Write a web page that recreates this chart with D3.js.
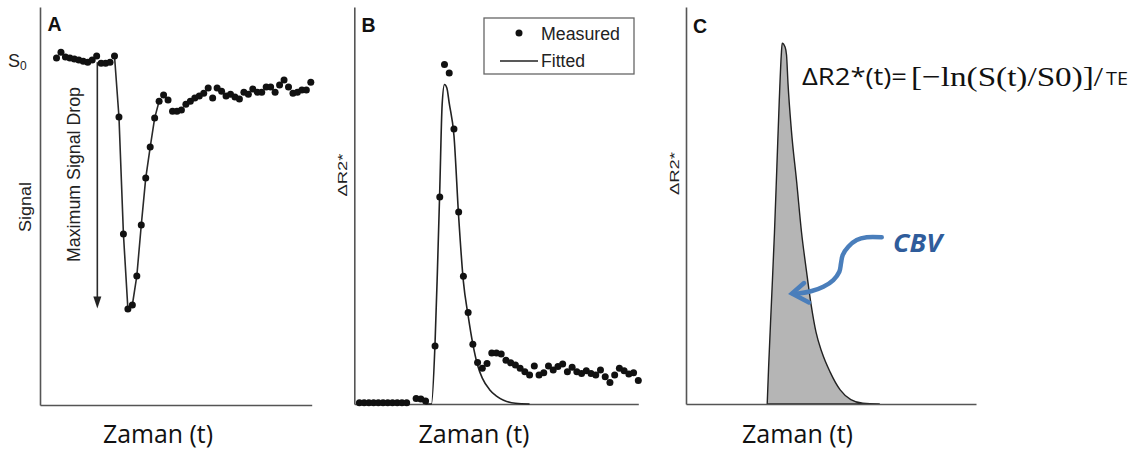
<!DOCTYPE html>
<html><head><meta charset="utf-8">
<script src="https://cdn.jsdelivr.net/npm/d3@7"></script>
<style>html,body{margin:0;padding:0;background:#fff;} svg{display:block;}</style>
</head><body>
<svg id="chart" width="1146" height="454"></svg>
<script>
// ---------------- data ----------------
const panelLetters = ["A", "B", "C"];
const xAxisTitle = "Zaman (t)";
const aYTitle = "Signal";
const bcYTitle = "ΔR2*";
const dropLabel = "Maximum Signal Drop";
const legendLabels = ["Measured", "Fitted"];
const formulaParts = ["ΔR2*(t)=", "[−ln(S(t)/S0)]/", "TE"];
const cbvLabel = "CBV";

// Panel A: signal intensity per time sample (S0 ≈ 100)
const aSignal = [100.6, 102.3, 100.9, 100.6, 100.3, 100.0, 99.7, 99.4, 100.0, 101.2,
  99.1, 99.1, 99.4, 101.2, 83.5, 49.6, 27.8, 29.0, 37.4, 52.2,
  65.8, 74.8, 83.2, 88.1, 89.9, 88.4, 85.2, 85.2, 85.5, 87.2,
  88.1, 89.0, 89.6, 90.4, 91.9, 89.0, 91.9, 91.0, 89.6, 90.1,
  89.3, 88.7, 90.7, 90.1, 91.6, 90.7, 90.7, 92.2, 92.2, 90.7,
  92.8, 94.2, 92.2, 90.4, 90.7, 91.3, 91.3, 93.6];
const aLineSpan = [13, 23];           // samples joined by the line
const aDrop = {t: 9.15, from: 99.4, to: 28.0};

// Panel B: measured ΔR2* per time sample, fitted curve
const bMeasured = [0.4, 0.4, 0.4, 0.4, 0.4, 0.4, 0.4, 0.4, 0.4, 0.4,
  0.4, null, 1.6, 1.5, 0.9, null, 17.1, 60.9, 99.9, 97.4,
  80.9, 56.5, 37.6, 26.9, 17.6, 12.2, 10.5, 11.9, 15.0, 15.0,
  14.7, 12.9, 12.1, 11.5, 10.5, 9.5, 8.5, 11.2, 8.5, 9.2,
  11.2, 10.0, 11.0, 11.8, 9.5, 10.8, 9.5, 9.0, 9.8, 9.0,
  8.5, 10.0, 8.0, 6.3, 8.5, 10.5, 9.8, 8.8, 9.2, 6.9];
const bFitTime  = [14, 15.25, 16, 16.5, 17, 17.5, 18, 18.5, 19, 20, 21, 22, 23, 24, 25, 26, 27.5, 29, 30.5, 33, 36];
const bFitValue = [0, 0, 17.9, 39, 63, 88, 94, 93, 88.5, 79, 55, 36, 26, 17.6, 11.4, 7.6, 4.3, 2.3, 1.1, 0.2, 0];

// Panel C: ΔR2* curve (area = CBV)
const cTime  = [16.8, 17.1, 17.7, 18.3, 18.8, 19.3, 19.7, 19.9, 20.5, 20.8, 21.1, 21.8, 22.9, 23.9, 24.9, 25.9, 26.9, 28.1, 29.8, 31.9, 34.1, 36.6, 40.1];
const cValue = [0, 10.5, 28.8, 47.4, 65.7, 84.2, 96.4, 100, 98.9, 96.7, 88.9, 75.9, 61.5, 47.6, 37.1, 27.4, 19.9, 14.4, 8.9, 3.9, 1.2, 0.2, 0];
const cArrowT = [40.49, 37.39, 35.32, 33.58, 32.42, 32.07, 31.72, 30.48, 28.41, 26.01, 23.59, 22.2];
const cArrowV = [46.18, 46.18, 45.43, 43.57, 41.27, 38.98, 36.65, 34.35, 32.49, 31.30, 30.66, 30.61];
const cHeadT = [24.42, 21.93, 25.45];
const cHeadV = [33.52, 30.61, 28.12];

// ---------------- drawing ----------------
const svg = d3.select("#chart");
const SANS = "'Liberation Sans', Arial, sans-serif";
const OPEN = "'Open Sans', 'Liberation Sans', sans-serif";
const SERIF = "'Liberation Serif', 'Times New Roman', serif";
const axisColor = "#555";
const DOT_R = 3.5;

function txt(g, s, o) {
  const t = g.append("text").text(s)
    .attr("font-family", o.family || SANS)
    .attr("font-size", o.size)
    .attr("fill", o.fill || "#111")
    .attr("text-anchor", o.anchor || "start");
  if (o.weight) t.attr("font-weight", o.weight);
  if (o.style) t.attr("font-style", o.style);
  if (o.len) t.attr("textLength", o.len).attr("lengthAdjust", "spacingAndGlyphs");
  if (o.rotate) t.attr("transform", `translate(${o.x},${o.y}) rotate(-90)`);
  else t.attr("x", o.x).attr("y", o.y);
  return t;
}

function drawAxes(x, y) {
  svg.append("g").attr("transform", `translate(0,${y.range()[0]})`)
    .call(d3.axisBottom(x).ticks(0).tickSizeOuter(0))
    .call(g => g.select(".domain").attr("stroke", axisColor).attr("stroke-width", 1.6));
  svg.append("g").attr("transform", `translate(${x.range()[0]},0)`)
    .call(d3.axisLeft(y).ticks(0).tickSizeOuter(0))
    .call(g => g.select(".domain").attr("stroke", axisColor).attr("stroke-width", 1.6));
}

// ---- Panel A ----
const xA = d3.scaleLinear().domain([-3.7, 57.2]).range([40, 311.7]);
const yA = d3.scaleLinear().domain([0, 115.4]).range([405, 7]);
drawAxes(xA, yA);
const aPts = aSignal.map((v, i) => ({t: i, v}));
svg.append("path")
  .datum(aPts.slice(aLineSpan[0], aLineSpan[1] + 1))
  .attr("fill", "none").attr("stroke", "#2a2a2a").attr("stroke-width", 1.6)
  .attr("d", d3.line().x(d => xA(d.t)).y(d => yA(d.v)));
// drop arrow
svg.append("line")
  .attr("x1", xA(aDrop.t)).attr("x2", xA(aDrop.t))
  .attr("y1", yA(aDrop.from)).attr("y2", yA(aDrop.to) - 8)
  .attr("stroke", "#2a2a2a").attr("stroke-width", 1.6);
{
  const tx = xA(aDrop.t), ty = yA(aDrop.to);
  svg.append("path").attr("d", `M${tx - 4},${ty - 12}L${tx + 4},${ty - 12}L${tx},${ty}Z`).attr("fill", "#222");
}
svg.append("g").selectAll("circle").data(aPts).join("circle")
  .attr("cx", d => xA(d.t)).attr("cy", d => yA(d.v)).attr("r", DOT_R).attr("fill", "#111");

txt(svg, panelLetters[0], {x: 47.5, y: 30.5, size: 19.5, weight: "bold"});
{
  const s = svg.append("text").attr("font-family", SANS).attr("fill", "#222").attr("x", 8).attr("y", 67);
  s.append("tspan").attr("font-size", 18).text("S");
  s.append("tspan").attr("font-size", 12).attr("dy", 3).text("0");
}
txt(svg, aYTitle, {x: 30.5, y: 207, size: 17, rotate: true, anchor: "middle", len: 50, fill: "#222"});
txt(svg, dropLabel, {x: 79.5, y: 174.5, size: 17.5, rotate: true, anchor: "middle", len: 175, fill: "#222"});
txt(svg, xAxisTitle, {x: 158, y: 443, size: 25, family: OPEN, anchor: "middle", len: 110});

// ---- Panel B ----
const xB = d3.scaleLinear().domain([-1.08, 59]).range([354.3, 638.3]);
const yB = d3.scaleLinear().domain([0, 116.8]).range([404, 7]);
drawAxes(xB, yB);
const bFit = bFitTime.map((t, i) => ({t, v: bFitValue[i]}));
svg.append("path").datum(bFit)
  .attr("fill", "none").attr("stroke", "#222").attr("stroke-width", 1.6)
  .attr("d", d3.line().curve(d3.curveMonotoneX).x(d => xB(d.t)).y(d => yB(d.v)));
const bPts = bMeasured.map((v, i) => ({t: i, v})).filter(d => d.v !== null);
svg.append("g").selectAll("circle").data(bPts).join("circle")
  .attr("cx", d => xB(d.t)).attr("cy", d => yB(d.v)).attr("r", DOT_R).attr("fill", "#111");
txt(svg, panelLetters[1], {x: 361.5, y: 31.5, size: 19.5, weight: "bold"});
txt(svg, bcYTitle, {x: 347, y: 175, size: 12, rotate: true, anchor: "middle", len: 43, fill: "#222"});
txt(svg, xAxisTitle, {x: 474, y: 443, size: 25, family: OPEN, anchor: "middle", len: 111});
// legend
const lg = svg.append("g");
lg.append("rect").attr("x", 484).attr("y", 18).attr("width", 150).attr("height", 56)
  .attr("fill", "#fff").attr("stroke", "#666").attr("stroke-width", 1.3);
lg.append("circle").attr("cx", 519).attr("cy", 33).attr("r", 3.5).attr("fill", "#111");
lg.append("line").attr("x1", 500).attr("x2", 538).attr("y1", 61).attr("y2", 61).attr("stroke", "#222").attr("stroke-width", 1.6);
txt(lg, legendLabels[0], {x: 541, y: 39.5, size: 17.5, len: 79, fill: "#222"});
txt(lg, legendLabels[1], {x: 541, y: 67, size: 17.5, len: 44, fill: "#222"});

// ---- Panel C ----
const xC = d3.scaleLinear().domain([0, 60]).range([686, 976]);
const yC = d3.scaleLinear().domain([0, 110]).range([404, 7]);
const cPts = cTime.map((t, i) => ({t, v: cValue[i]}));
svg.append("path").datum(cPts)
  .attr("fill", "#b5b5b5").attr("stroke", "#222").attr("stroke-width", 1.4)
  .attr("d", d3.area().curve(d3.curveMonotoneX).x(d => xC(d.t)).y0(yC(0)).y1(d => yC(d.v)));
drawAxes(xC, yC);
txt(svg, panelLetters[2], {x: 693, y: 32.5, size: 19.5, weight: "bold"});
txt(svg, bcYTitle, {x: 678.5, y: 173.5, size: 12, rotate: true, anchor: "middle", len: 43, fill: "#222"});
txt(svg, xAxisTitle, {x: 797.5, y: 443, size: 25, family: OPEN, anchor: "middle", len: 111});
// formula
txt(svg, formulaParts[0], {x: 802, y: 85, size: 24, family: OPEN, len: 105});
txt(svg, formulaParts[1], {x: 911, y: 86, size: 28, family: SERIF, len: 192});
txt(svg, formulaParts[2], {x: 1106, y: 85, size: 19, family: OPEN, len: 22});
// CBV arrow
const arrowBlue = "#4a7ebb";
const arr = cArrowT.map((t, i) => [xC(t), yC(cArrowV[i])]);
svg.append("path").attr("d", d3.line().curve(d3.curveCatmullRom)(arr))
  .attr("fill", "none").attr("stroke", arrowBlue).attr("stroke-width", 4.5).attr("stroke-linecap", "round");
const head = cHeadT.map((t, i) => [xC(t), yC(cHeadV[i])]);
svg.append("path").attr("d", d3.line()(head))
  .attr("fill", "none").attr("stroke", arrowBlue).attr("stroke-width", 4.5)
  .attr("stroke-linejoin", "miter").attr("stroke-linecap", "round");
txt(svg, cbvLabel, {x: 893, y: 252, size: 25, family: OPEN, weight: "bold", style: "italic", fill: "#2f5c9b", len: 49});
</script>
</body></html>
